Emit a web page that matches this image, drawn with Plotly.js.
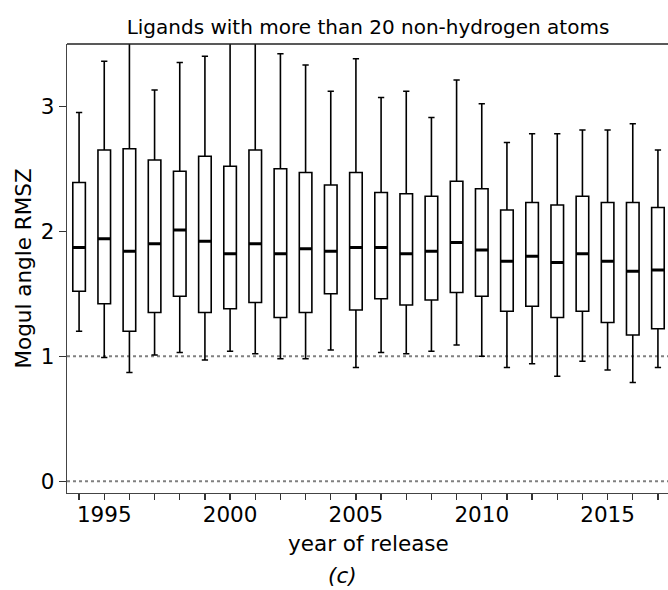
<!DOCTYPE html>
<html>
<head>
<meta charset="utf-8">
<script src="https://cdn.plot.ly/plotly-3.0.1.min.js"></script>
<style>html,body{margin:0;padding:0;background:#fff;}</style>
</head>
<body>
<div id="chart" style="width:668px;height:590px;"></div>
<script>
var years = [1994,1995,1996,1997,1998,1999,2000,2001,2002,2003,2004,2005,2006,2007,2008,2009,2010,2011,2012,2013,2014,2015,2016,2017];
var upperWhisker = [2.95,3.36,3.80,3.13,3.35,3.40,3.80,3.80,3.42,3.33,3.12,3.38,3.07,3.12,2.91,3.21,3.02,2.71,2.78,2.78,2.81,2.81,2.86,2.65];
var q3 = [2.39,2.65,2.66,2.57,2.48,2.60,2.52,2.65,2.50,2.47,2.37,2.47,2.31,2.30,2.28,2.40,2.34,2.17,2.23,2.21,2.28,2.23,2.23,2.19];
var medians = [1.87,1.94,1.84,1.90,2.01,1.92,1.82,1.90,1.82,1.86,1.84,1.87,1.87,1.82,1.84,1.91,1.85,1.76,1.80,1.75,1.82,1.76,1.68,1.69];
var q1 = [1.52,1.42,1.20,1.35,1.48,1.35,1.38,1.43,1.31,1.35,1.50,1.37,1.46,1.41,1.45,1.51,1.48,1.36,1.40,1.31,1.36,1.27,1.17,1.22];
var lowerWhisker = [1.20,0.99,0.87,1.01,1.03,0.97,1.04,1.02,0.98,0.98,1.05,0.91,1.03,1.02,1.04,1.09,1.00,0.91,0.94,0.84,0.96,0.89,0.79,0.91];
var xTickLabels = ['','1995','','','','','2000','','','','','2005','','','','','2010','','','','','2015','',''];
var yTickVals = [0,1,2,3];
var refLines = [0,1];

var FONT = 'DejaVu Sans, Liberation Sans, sans-serif';
var TXT = 21.5;

var boxTrace = {
  type: 'box',
  x: years,
  q1: q1,
  median: medians,
  q3: q3,
  lowerfence: lowerWhisker,
  upperfence: upperWhisker,
  width: 0.5,
  whiskerwidth: 0.5,
  boxpoints: false,
  fillcolor: '#ffffff',
  line: {color: '#000000', width: 1.6},
  hoverinfo: 'skip',
  showlegend: false
};

var medianTrace = {
  type: 'scatter',
  mode: 'markers',
  x: years,
  y: medians,
  marker: {symbol: 'line-ew', size: 9, line: {color: '#000000', width: 3}},
  hoverinfo: 'skip',
  showlegend: false
};

var shapes = refLines.map(function (v) {
  return {type: 'line', xref: 'paper', x0: 0, x1: 1, yref: 'y', y0: v, y1: v,
          line: {color: '#808080', width: 2, dash: 'dot'}, layer: 'below'};
});
shapes.push({type: 'line', xref: 'paper', x0: 0, x1: 1, yref: 'paper', y0: 1, y1: 1,
             line: {color: '#222222', width: 1.3}});

var layout = {
  width: 668, height: 590,
  margin: {l: 67, r: 0, t: 44, b: 97, pad: 0},
  paper_bgcolor: '#ffffff', plot_bgcolor: '#ffffff',
  font: {family: FONT, color: '#000000'},
  title: {text: 'Ligands with more than 20 non-hydrogen atoms',
          font: {family: FONT, size: 20, color: '#000000'},
          x: (368-67)/601, xref: 'paper', xanchor: 'center',
          y: 1 - 27/590, yref: 'container', yanchor: 'middle'},
  xaxis: {range: [1993.52, 2017.4], tickmode: 'array', tickvals: years, ticktext: xTickLabels,
          ticks: 'outside', ticklen: 6, tickwidth: 1.2, tickcolor: '#333333',
          ticklabelstandoff: -4,
          showline: true, linecolor: '#444444', linewidth: 1.3,
          showgrid: false, zeroline: false,
          tickfont: {family: FONT, size: TXT, color: '#000000'}},
  yaxis: {range: [-0.094, 3.498], tickmode: 'array', tickvals: yTickVals,
          ticks: 'outside', ticklen: 7, tickwidth: 1.2, tickcolor: '#333333',
          showline: true, linecolor: '#444444', linewidth: 1.3,
          showgrid: false, zeroline: false,
          tickfont: {family: FONT, size: TXT, color: '#000000'}},
  shapes: shapes,
  annotations: [
    {text: 'year of release', xref: 'paper', yref: 'paper', x: (368-67)/601, y: (493-543)/449,
     xanchor: 'center', yanchor: 'middle', showarrow: false,
     font: {family: FONT, size: TXT, color: '#000000'}},
    {text: '<i>(c)</i>', xref: 'paper', yref: 'paper', x: (342-67)/601, y: (493-575)/449,
     xanchor: 'center', yanchor: 'middle', showarrow: false,
     font: {family: FONT, size: TXT, color: '#000000'}},
    {text: 'Mogul angle RMSZ', xref: 'paper', yref: 'paper', x: (23-67)/601, y: 0.5,
     xanchor: 'center', yanchor: 'middle', textangle: -90, showarrow: false,
     font: {family: FONT, size: TXT, color: '#000000'}}
  ]
};

Plotly.newPlot('chart', [boxTrace, medianTrace], layout, {displayModeBar: false, staticPlot: true});
</script>
</body>
</html>
